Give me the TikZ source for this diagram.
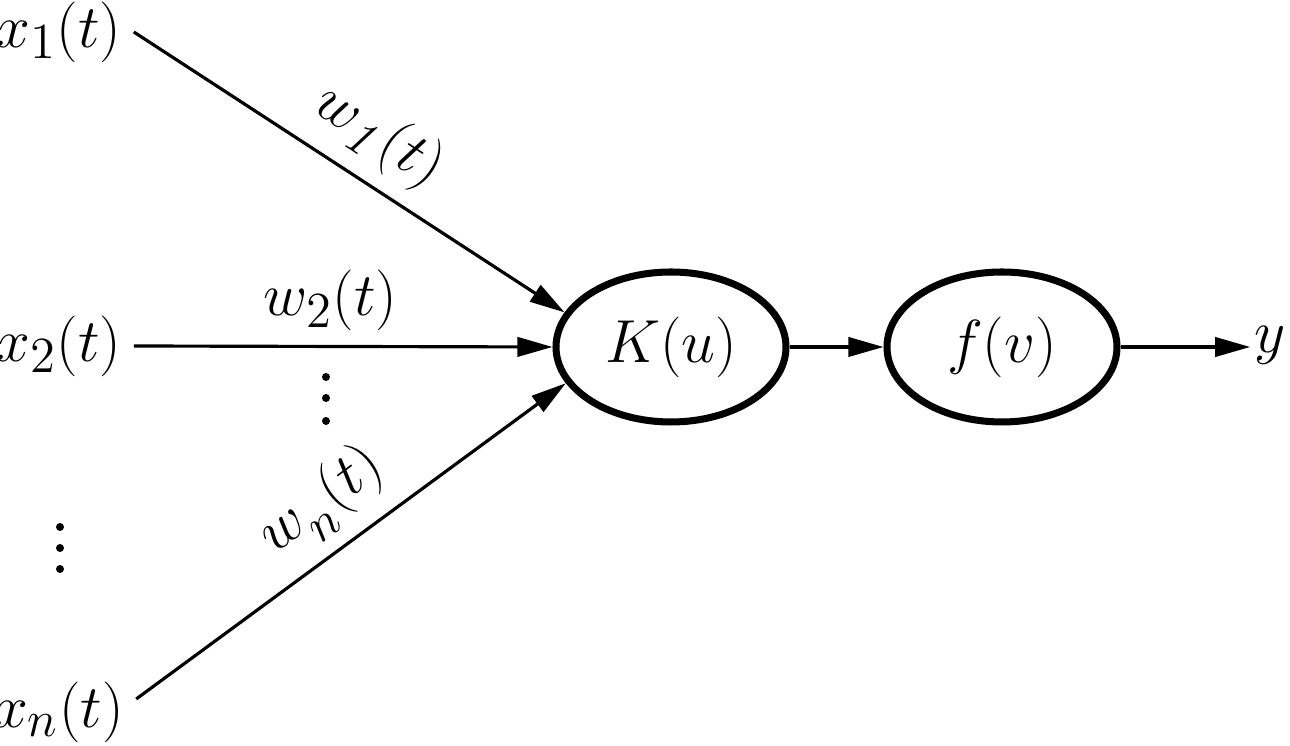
\documentclass[tikz,border=0pt]{standalone}
\usetikzlibrary{shapes.geometric,arrows.meta}

\begin{document}
\begin{tikzpicture}[font=\fontsize{19}{23}\selectfont,
  unit/.style={draw,ellipse,line width=2pt,minimum width=2.30cm,minimum height=1.50cm,inner sep=0pt},
  link/.style={-{Triangle[length=10pt,width=5.5pt]},line width=0.9pt},
  wlabel/.style={sloped,above,inner sep=4pt}]
\useasboundingbox (0,0) rectangle (12.9,-7.46);

\node (x1) at (0.59,-0.32) {$x_1(t)$};
\node (x2) at (0.59,-3.46) {$x_2(t)$};
\node (xn) at (0.59,-7.12) {$x_n(t)$};

\node[unit] (K) at (6.71,-3.47) {$K(u)$};
\node[unit] (f) at (10.02,-3.47) {$f(v)$};
\node[inner sep=1pt] (y) at (12.70,-3.45) {$y$};

\draw[link] (x1.east) -- node[wlabel,pos=0.51] {$w_{\mathit{1}}(t)$} (K.162);
\draw[link] (x2.east) -- node[wlabel,pos=0.47] {$w_2(t)$} (K.west);
\draw[link] ([yshift=0.13cm]xn.east) -- node[wlabel,pos=0.5] {$w_{\raisebox{-0.15em}{$\scriptstyle n$}}(t)$} (K.-161);
\draw[link] (K) -- (f);
\draw[link] (f.east) -- (f.east -| y.west);

\foreach \y in {-3.77,-3.98,-4.21} \fill (3.26,\y) circle [radius=0.04];
\foreach \y in {-5.27,-5.48,-5.69} \fill (0.60,\y) circle [radius=0.04];
\end{tikzpicture}
\end{document}
